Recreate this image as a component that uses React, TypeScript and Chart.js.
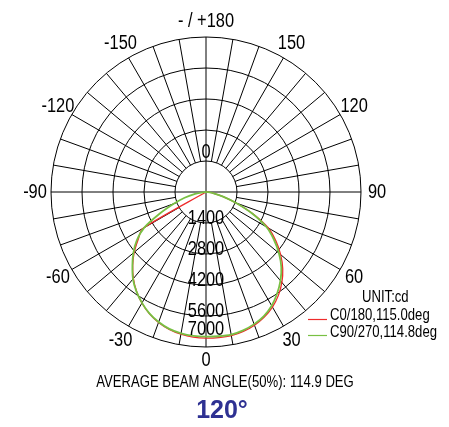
import React, { useEffect, useRef } from "react";
import { Chart, registerables } from "chart.js";

Chart.register(...registerables);

// Polar angle grid (degrees, 0 = downwards)
const HALF_ANGLES = [0, 5, 10, 15, 20, 25, 30, 35, 40, 45, 50, 55, 60, 65, 70, 75, 80, 85, 90];
// C0/180 plane (red): right half = C0, left half = C180 (cd)
const C0_RIGHT = [6600, 6600, 6590, 6520, 6400, 6230, 6000, 5700, 5330, 4900, 4400, 3850, 3250, 2350, 1450, 800, 350, 100, 0];
const C180_LEFT = [6600, 6580, 6520, 6420, 6270, 6060, 5790, 5470, 5100, 4680, 4230, 3740, 3300, 0, 0, 0, 0, 0, 0];
// C90/270 plane (green)
const C90_RIGHT = [6535, 6540, 6540, 6470, 6350, 6180, 5930, 5600, 5230, 4810, 4300, 3740, 3140, 2300, 1450, 800, 350, 100, 0];
const C270_LEFT = [6535, 6520, 6480, 6400, 6250, 6050, 5780, 5480, 5130, 4700, 4280, 3820, 3220, 2300, 1550, 1000, 500, 150, 0];

const RING_VALUES = [1400, 2800, 4200, 5600, 7000];
const RING_LABELS = ["1400", "2800", "4200", "5600", "7000"];
const ANGLE_TICKS = [0, -30, -60, -90, -120, -150, 180, 150, 120, 90, 60, 30];
const ANGLE_TICK_LABELS = ["0", "-30", "-60", "-90", "-120", "-150", "- / +180", "150", "120", "90", "60", "30"];
const MAX_CD = 7000;
const STEP = 5;

const LEGEND_UNIT = "UNIT:cd";
const LEGEND_C0 = "C0/180,115.0deg";
const LEGEND_C90 = "C90/270,114.8deg";
const FOOTER = "AVERAGE BEAM ANGLE(50%): 114.9 DEG";
const TITLE = "120\u00B0";

const RED = "#ee2b2b";
const GREEN = "#78c043";
const FONT = '"Liberation Sans", Arial, sans-serif';
const SQUEEZE = 0.82;

const N = 360 / STEP;
// index i goes clockwise from bottom: 0, -5, -10 ... -180, 175 ... 5
const angleOfIndex = (i: number) => (i <= N / 2 ? -STEP * i : 360 - STEP * i);
const indexOfAngle = (a: number) => (a <= 0 ? Math.round(-a / STEP) : Math.round((360 - a) / STEP));

function buildSeries(right: number[], left: number[]) {
  const out: number[] = [];
  for (let i = 0; i < N; i++) {
    const a = angleOfIndex(i);
    let v = 0;
    const kR = HALF_ANGLES.indexOf(a);
    const kL = HALF_ANGLES.indexOf(-a);
    if (a >= 0 && kR >= 0) v = right[kR];
    else if (a < 0 && kL >= 0) v = left[kL];
    out.push(v);
  }
  return out;
}

function narrowText(ctx: CanvasRenderingContext2D, text: string, x: number, y: number) {
  ctx.save();
  ctx.translate(x, y);
  ctx.scale(SQUEEZE, 1);
  ctx.fillText(text, 0, 0);
  ctx.restore();
}

const polarGrid = {
  id: "polarGrid",
  beforeDatasetsDraw(chart: any) {
    const s = chart.scales.r;
    const ctx = chart.ctx as CanvasRenderingContext2D;
    const cx = s.xCenter;
    const cy = s.yCenter;
    ctx.save();
    ctx.strokeStyle = "#000";
    ctx.lineWidth = 1;
    RING_VALUES.forEach((v) => {
      const r = s.getDistanceFromCenterForValue(v);
      ctx.beginPath();
      ctx.arc(cx, cy, r, 0, Math.PI * 2);
      ctx.stroke();
    });
    for (let i = 0; i < N; i += 2) {
      const full = i % (N / 4) === 0;
      const p0 = s.getPointPositionForValue(i, full ? 0 : RING_VALUES[0]);
      const p1 = s.getPointPositionForValue(i, MAX_CD);
      ctx.beginPath();
      ctx.moveTo(p0.x, p0.y);
      ctx.lineTo(p1.x, p1.y);
      ctx.stroke();
    }
    ctx.restore();
  },
  afterDatasetsDraw(chart: any) {
    const s = chart.scales.r;
    const ctx = chart.ctx as CanvasRenderingContext2D;
    const cx = s.xCenter;
    const cy = s.yCenter;
    ctx.save();
    ctx.fillStyle = "#000";
    ctx.font = `20px ${FONT}`;
    ctx.textAlign = "center";
    ctx.textBaseline = "middle";
    ANGLE_TICKS.forEach((a, k) => {
      const p = s.getPointPosition(indexOfAngle(a), s.drawingArea + (a === 0 ? 13 : 16));
      narrowText(ctx, ANGLE_TICK_LABELS[k], p.x, p.y);
    });
    ctx.textBaseline = "alphabetic";
    const r0 = s.getDistanceFromCenterForValue(RING_VALUES[0]);
    narrowText(ctx, "0", cx, cy - r0 - 3);
    RING_VALUES.forEach((v, k) => {
      const r = s.getDistanceFromCenterForValue(v);
      const y = k === RING_VALUES.length - 1 ? cy + r - 12 : cy + r + 1;
      narrowText(ctx, RING_LABELS[k], cx, y);
    });
    ctx.restore();
  },
  afterDraw(chart: any) {
    const ctx = chart.ctx as CanvasRenderingContext2D;
    ctx.save();
    ctx.fillStyle = "#000";
    ctx.font = `16px ${FONT}`;
    ctx.textBaseline = "middle";
    ctx.textAlign = "left";
    narrowText(ctx, LEGEND_UNIT, 362, 298);
    narrowText(ctx, LEGEND_C0, 330, 316);
    narrowText(ctx, LEGEND_C90, 330, 332.5);
    ctx.lineWidth = 1.2;
    ctx.strokeStyle = RED;
    ctx.beginPath();
    ctx.moveTo(308, 319.5);
    ctx.lineTo(327, 319.5);
    ctx.stroke();
    ctx.strokeStyle = GREEN;
    ctx.beginPath();
    ctx.moveTo(308, 335.5);
    ctx.lineTo(327, 335.5);
    ctx.stroke();
    ctx.textAlign = "center";
    narrowText(ctx, FOOTER, 225, 383);
    ctx.font = `bold 25px ${FONT}`;
    ctx.fillStyle = "#2e3192";
    ctx.fillText(TITLE, 222, 411);
    ctx.restore();
  },
};

export default function App() {
  const ref = useRef<HTMLCanvasElement | null>(null);
  useEffect(() => {
    if (!ref.current) return;
    const labels = Array.from({ length: N }, (_, i) => String(angleOfIndex(i)));
    const chart = new Chart(ref.current, {
      type: "radar",
      data: {
        labels,
        datasets: [
          {
            label: LEGEND_C90,
            data: buildSeries(C90_RIGHT, C270_LEFT),
            borderColor: GREEN,
            borderWidth: 1.8,
            pointRadius: 0,
            fill: false,
            tension: 0.25,
            order: 0,
          },
          {
            label: LEGEND_C0,
            data: buildSeries(C0_RIGHT, C180_LEFT),
            borderColor: RED,
            borderWidth: 1.3,
            pointRadius: 0,
            fill: false,
            tension: 0.25,
            order: 1,
          },
        ],
      },
      options: {
        animation: false,
        responsive: false,
        layout: { padding: { left: 51, right: 88, top: 37, bottom: 80 } },
        plugins: { legend: { display: false }, tooltip: { enabled: false } },
        scales: {
          r: {
            min: 0,
            max: MAX_CD,
            startAngle: 180,
            ticks: { display: false, stepSize: 1400 },
            grid: { display: false },
            angleLines: { display: false },
            pointLabels: { display: false },
          },
        },
      },
      plugins: [polarGrid],
    });
    return () => chart.destroy();
  }, []);
  return (
    <div style={{ position: "fixed", left: 0, top: 0, width: 449, height: 427, background: "#fff" }}>
      <canvas ref={ref} width={449} height={427} style={{ width: 449, height: 427 }} />
    </div>
  );
}
